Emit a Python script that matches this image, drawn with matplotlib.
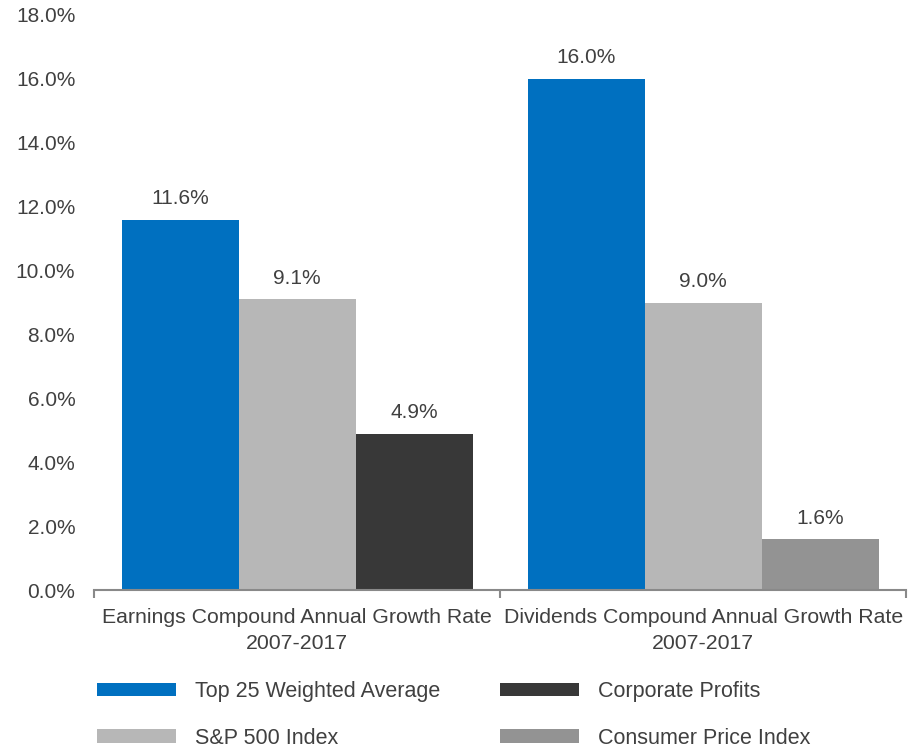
import matplotlib.pyplot as plt
from matplotlib.patches import Patch
from matplotlib.ticker import FuncFormatter

plt.rcParams['font.family'] = ['Liberation Sans', 'DejaVu Sans']

categories = ['Earnings Compound Annual Growth Rate\n2007-2017',
              'Dividends Compound Annual Growth Rate\n2007-2017']
top25 = [11.6, 16.0]
sp500 = [9.1, 9.0]
corporate_profits = [4.9, None]
cpi = [None, 1.6]

series_names = ['Top 25 Weighted Average', 'S&P 500 Index',
                'Corporate Profits', 'Consumer Price Index']
colors = ['#0070C0', '#B7B7B7', '#383838', '#939393']
text_color = '#404040'

fig = plt.figure(figsize=(9.22, 7.49), dpi=100)
ax = fig.add_axes([0.102, 0.212, 0.881, 0.768])

width = 0.288
x = [0, 1]
# third bar slot holds corporate profits in the first group, CPI in the second
slots = [(top25, -width, colors[0]), (sp500, 0, colors[1]),
         (corporate_profits, width, colors[2]), (cpi, width, colors[3])]
for values, offset, color in slots:
    for xi, v in zip(x, values):
        if v is None:
            continue
        ax.bar(xi + offset, v, width=width, color=color, linewidth=0)
        ax.text(xi + offset, v + 0.36, f'{v:.1f}%', ha='center', va='bottom',
                fontsize=15, color=text_color)

ax.set_xlim(-0.5, 1.5)
ax.set_ylim(0, 18)
ax.set_yticks(range(0, 19, 2))
ax.yaxis.set_major_formatter(FuncFormatter(lambda v, p: f'{v:.1f}%'))
ax.set_xticks(x)
ax.set_xticklabels(categories, linespacing=1.45)
ax.set_xticks([-0.5, 0.5, 1.5], minor=True)
ax.tick_params(axis='x', which='major', length=0, pad=13,
               labelsize=15.3, labelcolor=text_color)
ax.tick_params(axis='x', which='minor', length=6, width=1.5, color='#898989',
               direction='out')
ax.tick_params(axis='y', length=0, pad=13.5, labelsize=15, labelcolor=text_color)
for side in ['top', 'right', 'left']:
    ax.spines[side].set_visible(False)
ax.spines['bottom'].set_color('#898989')
ax.spines['bottom'].set_linewidth(1.5)

handles = [Patch(facecolor=c, edgecolor='none', label=n)
           for c, n in zip(colors, series_names)]
legend_opts = dict(loc='upper left', frameon=False, fontsize=15.5,
                   labelcolor=text_color, handlelength=3.67, handleheight=0.6,
                   handletextpad=0.88, labelspacing=1.2, borderpad=0,
                   borderaxespad=0)
fig.legend(handles=handles[:2], bbox_to_anchor=(97 / 922, 1 - 681 / 749),
           **legend_opts)
fig.legend(handles=handles[2:], bbox_to_anchor=(500 / 922, 1 - 681 / 749),
           **legend_opts)

fig.savefig('out.png', dpi=100)
